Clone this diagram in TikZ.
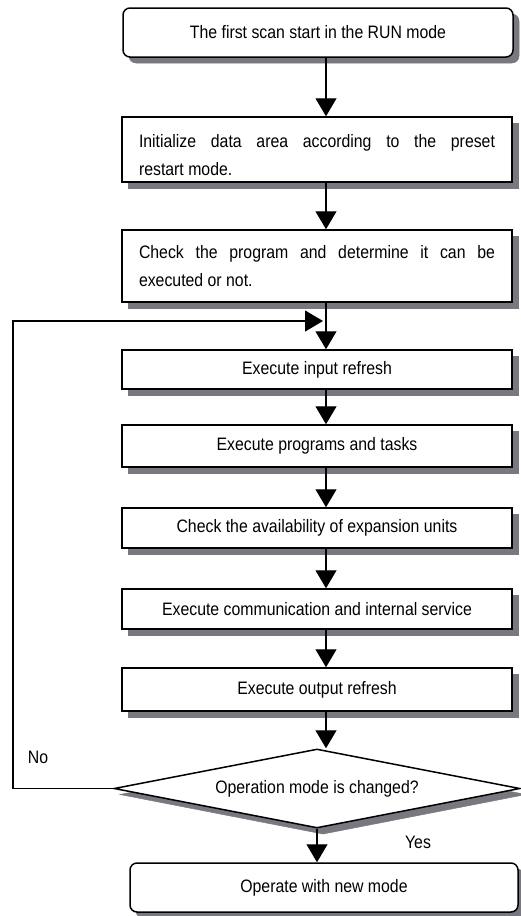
\documentclass[tikz,border=0pt]{standalone}
\usepackage{fontspec}
\setmainfont[FakeStretch=0.88]{Liberation Sans}
\usetikzlibrary{arrows.meta,shapes.geometric}
\definecolor{shadowgrey}{RGB}{120,120,128}
\begin{document}
\begin{tikzpicture}[x=1pt,y=-1pt,
  box/.style={draw,line width=1.5pt,fill=white,minimum width=390pt,inner sep=0pt,
    font=\fontsize{18}{28}\selectfont},
  rbox/.style={box,rounded corners=7pt},
  para/.style={text width=356pt,align=justify},
  arr/.style={line width=1.2pt,-{Triangle[width=21pt,length=18pt]}},
  lbl/.style={font=\fontsize{18}{22}\selectfont,inner sep=0pt},
  shadowfill/.style={fill=shadowgrey,draw=shadowgrey,line width=0.5pt},
]
\useasboundingbox (0,0) rectangle (520,916);
% shadows
\path[shadowfill,rounded corners=7pt] (129,14) rectangle (519,63);
\path[shadowfill] (128,123) rectangle (518,188);
\path[shadowfill] (128,236) rectangle (518,308);
\path[shadowfill] (128,356) rectangle (518,395);
\path[shadowfill] (128,431) rectangle (518,473);
\path[shadowfill] (128,514) rectangle (518,554);
\path[shadowfill] (128,595) rectangle (518,635);
\path[shadowfill] (128,674) rectangle (518,717);
\path[shadowfill] (323,755) -- (526,794.5) -- (323,834) -- (120,794.5) -- cycle;
\path[shadowfill,rounded corners=7pt] (136,869) rectangle (524,918);
% nodes
\node[rbox,minimum height=49pt] (b1) at (318,32.5) {The first scan start in the RUN mode};
\node[box,para,minimum height=65pt] (b2) at (317,149.5) {\rule{0pt}{25pt}Initialize data area according to the preset\linebreak restart mode.};
\node[box,para,minimum height=72pt] (b3) at (317,266) {Check the program and determine it can be\linebreak executed or not.};
\node[box,minimum height=39pt] (b4) at (317,369.5) {Execute input refresh};
\node[box,minimum height=42pt] (b5) at (317,446) {Execute programs and tasks};
\node[box,minimum height=40pt] (b6) at (317,528) {Check the availability of expansion units};
\node[box,minimum height=40pt] (b7) at (317,609) {Execute communication and internal service};
\node[box,minimum height=43pt] (b8) at (317,689.5) {Execute output refresh};
\node[diamond,shape aspect=5.14,draw,line width=1.5pt,fill=white,minimum width=406pt,minimum height=79pt,inner sep=0pt,
  font=\fontsize{18}{22}\selectfont] (dia) at (317,788.5) {Operation mode is changed?};
\node[rbox,minimum width=388pt,minimum height=49pt] (b9) at (324,887.5) {Operate with new mode};
\node[lbl] (no) at (38,757) {No};
\node[lbl] (yes) at (418,842) {Yes};
% connectors
\coordinate (ax) at (326,0);
\coordinate (lft) at (13,0);
\coordinate (fb) at (0,321);
\draw[arr] (b1.south -| ax) -- (b2.north -| ax);
\draw[arr] (b2.south -| ax) -- (b3.north -| ax);
\draw[arr] (b3.south -| ax) -- (b4.north -| ax);
\draw[arr] (b4.south -| ax) -- (b5.north -| ax);
\draw[arr] (b5.south -| ax) -- (b6.north -| ax);
\draw[arr] (b6.south -| ax) -- (b7.north -| ax);
\draw[arr] (b7.south -| ax) -- (b8.north -| ax);
\draw[arr] (b8.south -| ax) -- (dia.north -| ax);
\draw[arr] (dia.south) -- (b9.north -| dia.south);
\draw[arr] (dia.west) -- (dia.west -| lft) -- (fb -| lft) -- ([xshift=-3pt]fb -| ax);
\end{tikzpicture}
\end{document}
